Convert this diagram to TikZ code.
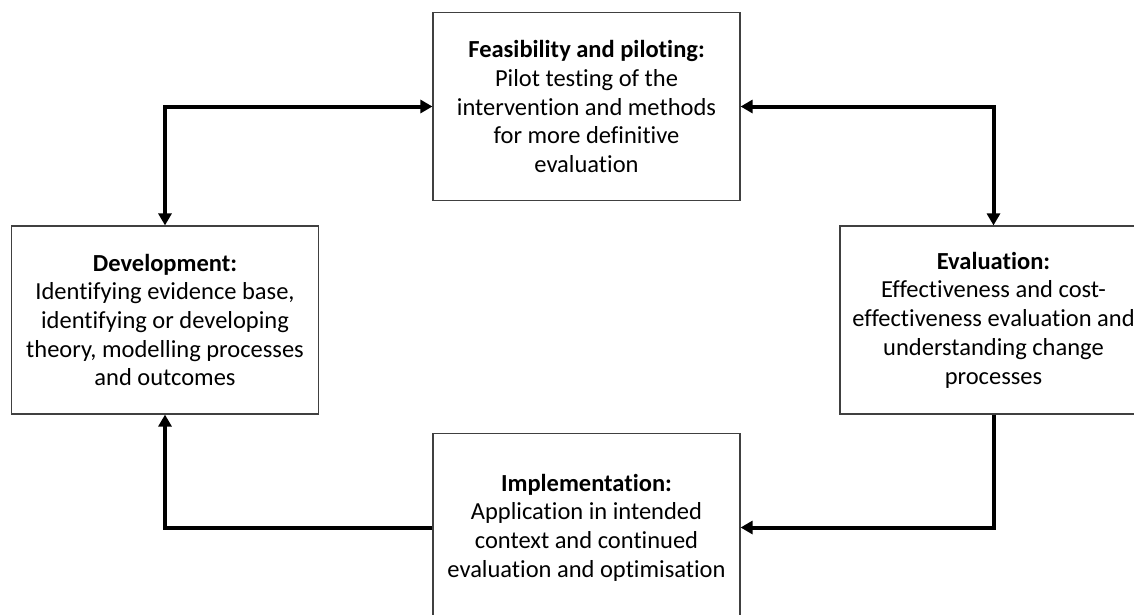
\documentclass[tikz,border=0pt]{standalone}
\usepackage{fontspec}
\setmainfont[RawFeature=-liga]{Carlito}
\usepackage{tikz}
\usetikzlibrary{arrows.meta}

\begin{document}
\begin{tikzpicture}[
  x=1pt,y=-1pt,
  stage/.style={rectangle,draw=black!75,line width=1.2pt,align=center,minimum width=307pt,minimum height=188pt,inner sep=0pt,font=\fontsize{24.5}{28.7}\selectfont},
  arrow/.style={-{Triangle[length=12pt,width=13pt]},line width=4pt,line join=miter},
  both/.style={{Triangle[length=12pt,width=13pt]}-{Triangle[length=12pt,width=13pt]},line width=4pt}
]
\useasboundingbox (0,0) rectangle (1134,614);
\clip (0,0) rectangle (1134,614);
\node[stage] (feas) at (586.5,106.5) {\textbf{Feasibility and piloting:}\\Pilot testing of the\\intervention and methods\\for more definitive\\evaluation};
\node[stage] (dev) at (165,320) {\textbf{Development:}\\Identifying evidence base,\\identifying or developing\\theory, modelling processes\\and outcomes};
\node[stage] (eval) at (993.5,320) {\textbf{Evaluation:}\\Effectiveness and cost-\\effectiveness evaluation and\\understanding change\\processes};
\node[stage] (impl) at (586.5,527.5) {\textbf{Implementation:}\\Application in intended\\context and continued\\evaluation and optimisation};
\draw[both] (dev) |- (feas);
\draw[both] (feas) -| (eval);
\draw[arrow] (eval) |- (impl);
\draw[arrow] (impl) -| (dev);
\end{tikzpicture}
\end{document}
